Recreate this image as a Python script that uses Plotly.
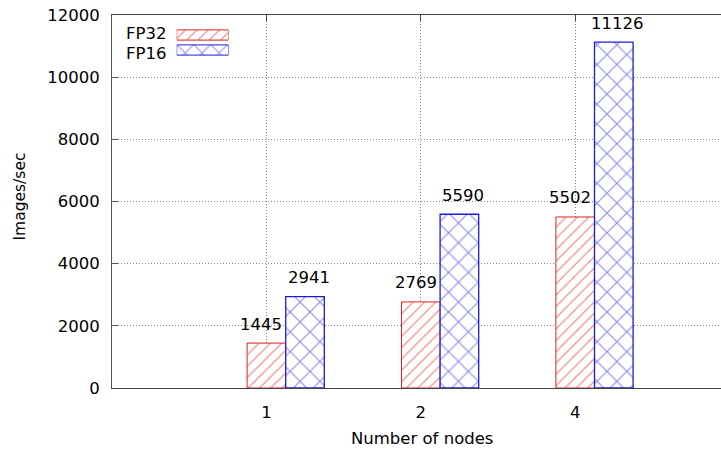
import plotly.graph_objects as go

categories = ["1", "2", "4"]
fp32_values = [1445, 2769, 5502]
fp16_values = [2941, 5590, 11126]
series_names = ["FP32", "FP16"]
y_ticks = [0, 2000, 4000, 6000, 8000, 10000, 12000]
x_title = "Number of nodes"
y_title = "Images/sec"

RED = "#e02020"
BLUE = "#1c1cd8"
FONT = "DejaVu Sans, Verdana, sans-serif"
FS = 16.5

pos = [i + 1 for i in range(len(categories))]
bw = 0.25
x32 = [p for p in pos]
x16 = [p + bw for p in pos]

fig = go.Figure()
fig.add_trace(go.Bar(
    x=x32, y=fp32_values, width=bw, name=series_names[0], showlegend=False,
    marker=dict(color="white", line=dict(color=RED, width=1),
                pattern=dict(shape="/", fgcolor=RED, bgcolor="white", size=8, solidity=0.16)),
))
fig.add_trace(go.Bar(
    x=x16, y=fp16_values, width=bw, name=series_names[1], showlegend=False,
    marker=dict(color="white", line=dict(color=BLUE, width=1.3),
                pattern=dict(shape="x", fgcolor=BLUE, bgcolor="white", size=14, solidity=0.16)),
))

# legend swatches on a small overlay axis
fig.add_trace(go.Bar(
    y=[1], x=[1], orientation="h", width=0.68, xaxis="x2", yaxis="y2", showlegend=False,
    marker=dict(color="white", line=dict(color=RED, width=1),
                pattern=dict(shape="/", fgcolor=RED, bgcolor="white", size=8, solidity=0.16)),
    hoverinfo="skip",
))
fig.add_trace(go.Bar(
    y=[0], x=[1], orientation="h", width=0.68, xaxis="x2", yaxis="y2", showlegend=False,
    marker=dict(color="white", line=dict(color=BLUE, width=1),
                pattern=dict(shape="x", fgcolor=BLUE, bgcolor="white", size=12, solidity=0.16)),
    hoverinfo="skip",
))

tf = dict(family=FONT, size=FS, color="black")
annotations = []
for x, v in zip(x32, fp32_values):
    annotations.append(dict(x=x, y=v, xref="x", yref="y", text=str(v), showarrow=False,
                            yanchor="middle", yshift=19, xshift=-5, font=tf))
for x, v in zip(x16, fp16_values):
    annotations.append(dict(x=x, y=v, xref="x", yref="y", text=str(v), showarrow=False,
                            yanchor="middle", yshift=19, xshift=4, font=tf))
for i, name in enumerate(series_names):
    annotations.append(dict(x=0, y=1, xref="paper", yref="paper", text=name, showarrow=False,
                            xanchor="left", yanchor="middle", xshift=12, yshift=-18 - 20 * i,
                            font=tf))
# axis titles
annotations.append(dict(x=0.5, y=0, xref="paper", yref="paper", text=x_title, showarrow=False,
                        xanchor="center", yanchor="middle", xshift=5, yshift=-50, font=tf))
annotations.append(dict(x=0, y=0.5, xref="paper", yref="paper", text=y_title, showarrow=False,
                        textangle=-90, xanchor="center", yanchor="middle", xshift=-93, yshift=5,
                        font=dict(family=FONT, size=15.5, color="black")))

W, H = 721, 450
L, T, B = 112, 15, 62
plot_w = W - L
plot_h = H - T - B

fig.update_layout(
    width=W, height=H,
    margin=dict(l=L, r=0, t=T, b=B, autoexpand=False),
    plot_bgcolor="white", paper_bgcolor="white",
    barmode="overlay",
    font=dict(family=FONT, size=FS, color="black"),
    annotations=annotations,
    xaxis=dict(
        range=[0, plot_w / 154.4], tickvals=pos, ticktext=categories,
        showgrid=True, gridcolor="#888888", griddash="1px,2px", gridwidth=1,
        zeroline=False, showline=True, linecolor="#444444", linewidth=1,
        mirror="ticks", ticks="inside", ticklen=6, tickcolor="#444444",
        ticklabelstandoff=9, layer="below traces",
        tickfont=dict(size=FS, color="black"),
    ),
    yaxis=dict(
        range=[0, 12000], tickvals=y_ticks, ticktext=[str(t) for t in y_ticks],
        showgrid=True, gridcolor="#888888", griddash="1px,2px", gridwidth=1,
        zeroline=False, showline=True, linecolor="#555555", linewidth=1,
        ticks="inside", ticklen=6, tickcolor="#555555",
        ticklabelstandoff=8, layer="below traces",
        tickfont=dict(size=FS, color="black"),
    ),
    xaxis2=dict(domain=[(176.7 - L) / plot_w, (228.5 - L) / plot_w], range=[0, 1],
                visible=False, anchor="y2", fixedrange=True),
    yaxis2=dict(domain=[(388 - 57.5) / plot_h, (388 - 27.5) / plot_h], range=[-0.5, 1.5],
                visible=False, anchor="x2", fixedrange=True),
    showlegend=False,
)

fig.write_html("out.html")
